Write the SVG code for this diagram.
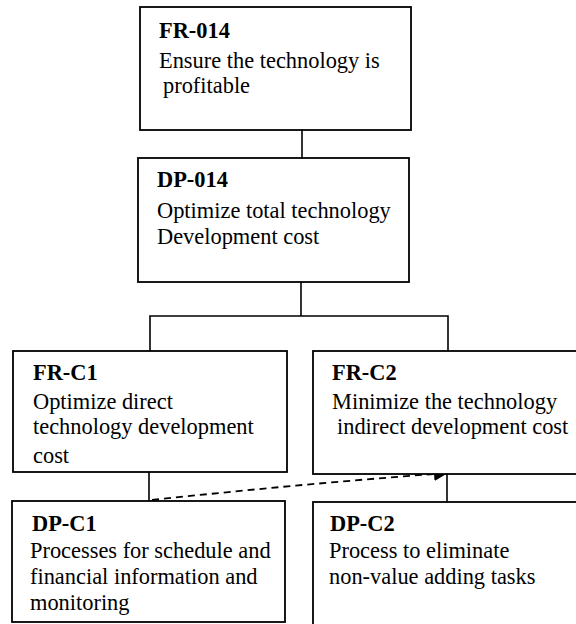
<svg xmlns="http://www.w3.org/2000/svg" width="576" height="624" viewBox="0 0 576 624">
  <style>
    .box { fill: #fff; stroke: #000; stroke-width: 1.8; }
    .link { fill: none; stroke: #000; stroke-width: 1.6; }
    .dash { fill: none; stroke: #000; stroke-width: 1.8; stroke-dasharray: 7 5; }
    text { font-family: "Liberation Serif", "Times New Roman", serif; font-size: 22.4px; fill: #000; }
    .title { font-weight: bold; }
  </style>
  <defs>
    <marker id="arrow" viewBox="0 0 14 14" refX="13" refY="7" markerWidth="14" markerHeight="14" markerUnits="userSpaceOnUse" orient="auto">
      <path d="M0,0 L14,7 L0,14 Z" fill="#000"/>
    </marker>
  </defs>
  <rect width="576" height="624" fill="#fff"/>

  <!-- tree connectors -->
  <g id="connectors">
    <line class="link" x1="302" y1="130" x2="302" y2="158"/>
    <polyline class="link" points="301,282 301,316"/>
    <polyline class="link" points="150,351 150,316 448,316 448,351"/>
    <line class="link" x1="149" y1="472" x2="149" y2="501"/>
    <line class="link" x1="447" y1="474" x2="447" y2="502"/>
    <path class="dash" d="M152,500 Q300,484 447,473" marker-end="url(#arrow)"/>
  </g>

  <g id="fr-014">
    <rect class="box" x="140" y="7" width="271" height="123"/>
    <text class="title" x="159" y="38">FR-014</text>
    <text x="159" y="68">Ensure the technology is</text>
    <text x="163" y="93">profitable</text>
  </g>

  <g id="dp-014">
    <rect class="box" x="138" y="158" width="271" height="124"/>
    <text class="title" x="157" y="187">DP-014</text>
    <text x="157" y="218">Optimize total technology</text>
    <text x="157" y="244">Development cost</text>
  </g>

  <g id="fr-c1">
    <rect class="box" x="13" y="351" width="274" height="121"/>
    <text class="title" x="33" y="380">FR-C1</text>
    <text x="33" y="409">Optimize direct</text>
    <text x="33" y="434">technology development</text>
    <text x="33" y="463">cost</text>
  </g>

  <g id="fr-c2">
    <rect class="box" x="313" y="351" width="270" height="123"/>
    <text class="title" x="332" y="380">FR-C2</text>
    <text x="332" y="409">Minimize the technology</text>
    <text x="337" y="434">indirect development cost</text>
  </g>

  <g id="dp-c1">
    <rect class="box" x="12" y="501" width="273" height="121"/>
    <text class="title" x="32" y="531">DP-C1</text>
    <text x="30" y="558">Processes for schedule and</text>
    <text x="30" y="584">financial information and</text>
    <text x="30" y="610">monitoring</text>
  </g>

  <g id="dp-c2">
    <rect class="box" x="313" y="502" width="270" height="130"/>
    <text class="title" x="330" y="531">DP-C2</text>
    <text x="329" y="558">Process to eliminate</text>
    <text x="329" y="584">non-value adding tasks</text>
  </g>
</svg>
